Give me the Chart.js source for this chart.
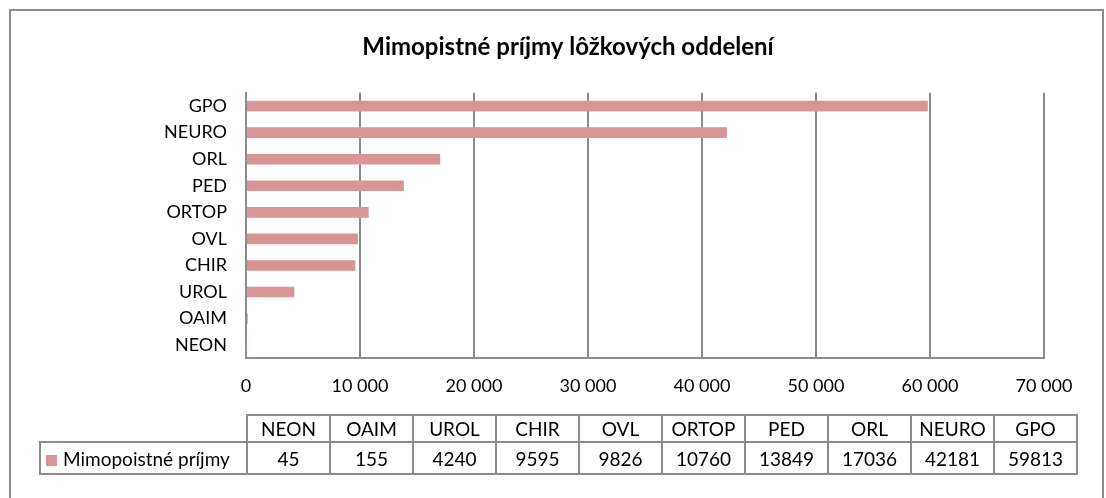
<!DOCTYPE html>
<html>
<head>
<meta charset="utf-8">
<script src="https://cdn.jsdelivr.net/npm/chart.js@4/dist/chart.umd.min.js"></script>
<style>
  html, body { margin: 0; padding: 0; background: #fff; overflow: hidden; }
  body { width: 1106px; height: 498px; position: relative; font-family: Lato, sans-serif; }
  #frame { position: absolute; left: 9px; top: 9px; width: 1091px; height: 520px; border: 2px solid #8c8c8c; }
  #wrap { position: absolute; left: 0; top: 0; width: 1106px; height: 423px; }
  #dataTable { position: absolute; left: 39px; top: 414px; border-collapse: collapse; font-size: 19px; color: #000; }
  #dataTable td { border: 2px solid #8c8c8c; text-align: center; padding: 0; width: 81px; }
  #dataTable tr.head td { height: 25px; }
  #dataTable tr.vals td { height: 30px; }
  #dataTable td.blank { border: none; width: 205px; }
  #dataTable td.legend { text-align: left; padding-left: 5px; width: 200px; }
  .key { display: inline-block; width: 11px; height: 11px; background: #d99594; margin-right: 6px; vertical-align: 0px; }
</style>
</head>
<body>
<div id="frame"></div>
<div id="wrap"><canvas id="chart" width="1106" height="423"></canvas></div>
<table id="dataTable"></table>
<script>
'use strict';

const categories = ['NEON', 'OAIM', 'UROL', 'CHIR', 'OVL', 'ORTOP', 'PED', 'ORL', 'NEURO', 'GPO'];
const incomes = [45, 155, 4240, 9595, 9826, 10760, 13849, 17036, 42181, 59813];
const seriesName = 'Mimopoistné príjmy';
const chartTitle = 'Mimopistné príjmy lôžkových oddelení';
const xTicks = [0, 10000, 20000, 30000, 40000, 50000, 60000, 70000];

const barColor = '#d99594';
const lineColor = '#8c8c8c';

function fmt(v) {
  return String(v).replace(/\B(?=(\d{3})+(?!\d))/g, ' ');
}

// data table under the chart
const table = document.getElementById('dataTable');
let head = '<tr class="head"><td class="blank"></td>';
let vals = '<tr class="vals"><td class="legend"><span class="key"></span>' + seriesName + '</td>';
for (let i = 0; i < categories.length; i++) {
  head += '<td>' + categories[i] + '</td>';
  vals += '<td>' + incomes[i] + '</td>';
}
table.innerHTML = head + '</tr>' + vals + '</tr>';

const ctx = document.getElementById('chart');

new Chart(ctx, {
  type: 'bar',
  data: {
    labels: categories,
    datasets: [{
      label: seriesName,
      data: incomes,
      backgroundColor: barColor,
      borderWidth: 0,
      barPercentage: 0.4,
      categoryPercentage: 1
    }]
  },
  options: {
    indexAxis: 'y',
    responsive: false,
    animation: false,
    layout: { padding: { left: 92, right: 62, top: 0, bottom: 9 } },
    plugins: {
      legend: { display: false },
      tooltip: { enabled: false },
      title: {
        display: true,
        text: chartTitle,
        color: '#000',
        font: { family: 'Lato', size: 24, weight: 'bold' },
        padding: { top: 33, bottom: 31 }
      }
    },
    scales: {
      x: {
        min: xTicks[0],
        max: xTicks[xTicks.length - 1],
        afterBuildTicks: (scale) => { scale.ticks = xTicks.map(v => ({ value: v })); },
        grid: { color: lineColor, lineWidth: 2, drawTicks: false },
        border: { display: true, color: lineColor, width: 2 },
        ticks: {
          color: '#000',
          padding: 17,
          maxRotation: 0,
          font: { family: 'Lato', size: 18 },
          callback: (v) => fmt(v)
        }
      },
      y: {
        reverse: true,
        grid: { display: false, drawTicks: false },
        border: { display: true, color: lineColor, width: 2 },
        afterFit: (scale) => { scale.width = 154; },
        ticks: {
          color: '#000',
          padding: 19,
          font: { family: 'Lato', size: 18 }
        }
      }
    }
  }
});
</script>
</body>
</html>
